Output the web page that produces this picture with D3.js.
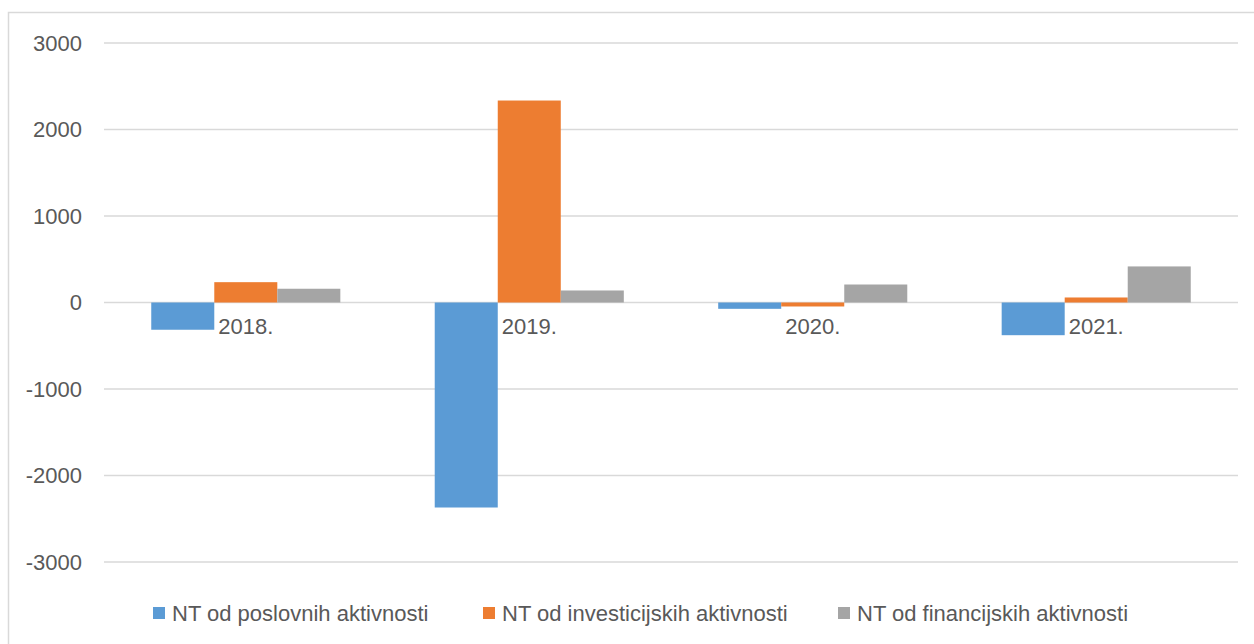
<!DOCTYPE html>
<html>
<head>
<meta charset="utf-8">
<script src="https://cdn.jsdelivr.net/npm/d3@7"></script>
<style>
  body { margin: 0; background: #fff; }
  text { font-family: "Liberation Sans", Arial, sans-serif; fill: #595959; }
</style>
</head>
<body>
<svg></svg>
<script>
const size = {w: 1254, h: 644};
const margin = {t: 43, r: 16, b: 82, l: 104};

const years = ['2018.', '2019.', '2020.', '2021.'];
const seriesNames = ['NT od poslovnih aktivnosti', 'NT od investicijskih aktivnosti', 'NT od financijskih aktivnosti'];
const poslovne = [-315, -2370, -73, -378];
const investicijske = [235, 2335, -46, 58];
const financijske = [159, 139, 208, 417];
const colors = ['#5B9BD5', '#ED7D31', '#A5A5A5'];
const yTicks = [-3000, -2000, -1000, 0, 1000, 2000, 3000];

const seriesValues = [poslovne, investicijske, financijske];

const svg = d3.select('svg')
    .attr('width', size.w)
    .attr('height', size.h);

// chart frame (right and bottom edges fall outside the picture)
svg.append('rect')
    .attr('x', 8.5).attr('y', 12.5)
    .attr('width', 1260).attr('height', 660)
    .attr('fill', 'none')
    .attr('stroke', '#d9d9d9')
    .attr('stroke-width', 1.5);

const x0 = d3.scaleBand()
    .domain(years)
    .range([margin.l, size.w - margin.r])
    .paddingInner(0.333)
    .paddingOuter(0.1667);

const x1 = d3.scaleBand()
    .domain(d3.range(seriesNames.length))
    .range([0, x0.bandwidth()]);

const y = d3.scaleLinear()
    .domain([-3000, 3000])
    .range([size.h - margin.b, margin.t]);

// gridlines
svg.append('g')
    .selectAll('line')
    .data(yTicks)
    .enter()
    .append('line')
    .attr('x1', margin.l)
    .attr('x2', size.w - margin.r)
    .attr('y1', d => y(d))
    .attr('y2', d => y(d))
    .attr('stroke', '#d9d9d9')
    .attr('stroke-width', 1.5);

// y tick labels
svg.append('g')
    .selectAll('text')
    .data(yTicks)
    .enter()
    .append('text')
    .attr('x', 82)
    .attr('y', d => y(d))
    .attr('dy', '0.36em')
    .attr('text-anchor', 'end')
    .style('font-size', '22px')
    .text(d => d);

// bars
const groups = svg.append('g')
    .selectAll('g')
    .data(years)
    .enter()
    .append('g')
    .attr('transform', d => `translate(${x0(d)},0)`);

groups.selectAll('rect')
    .data((d, i) => seriesValues.map((s, k) => ({k: k, v: s[i]})))
    .enter()
    .append('rect')
    .attr('x', d => x1(d.k))
    .attr('width', x1.bandwidth())
    .attr('y', d => y(Math.max(0, d.v)))
    .attr('height', d => Math.abs(y(d.v) - y(0)))
    .attr('fill', d => colors[d.k]);

// category labels sit just under the zero line
svg.append('g')
    .selectAll('text')
    .data(years)
    .enter()
    .append('text')
    .attr('x', d => x0(d) + x0.bandwidth() / 2)
    .attr('y', y(0) + 31)
    .attr('text-anchor', 'middle')
    .style('font-size', '22px')
    .text(d => d);

// legend
const legendX = [153, 483, 838];
const legend = svg.append('g')
    .selectAll('g')
    .data(seriesNames)
    .enter()
    .append('g')
    .attr('transform', (d, i) => `translate(${legendX[i]},613)`);

legend.append('rect')
    .attr('x', 0).attr('y', -6)
    .attr('width', 12).attr('height', 12)
    .attr('fill', (d, i) => colors[i]);

legend.append('text')
    .attr('x', 19)
    .attr('dy', '0.36em')
    .style('font-size', '22px')
    .text(d => d);
</script>
</body>
</html>
